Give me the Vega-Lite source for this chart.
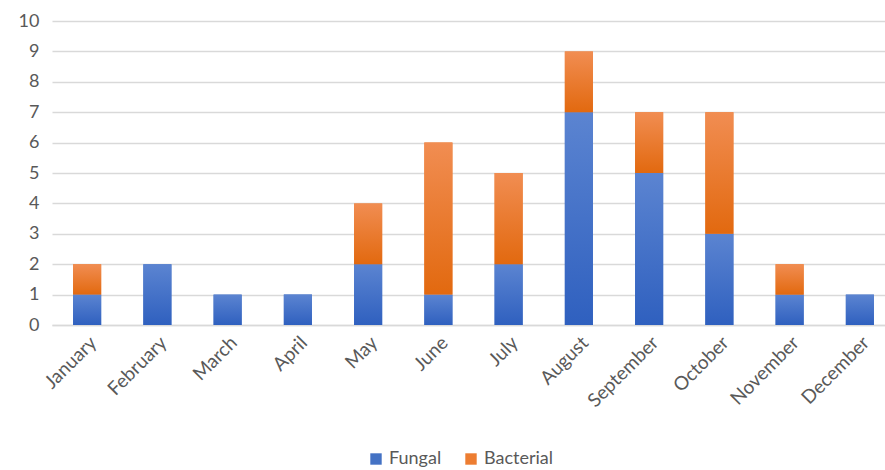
{
  "$schema": "https://vega.github.io/schema/vega-lite/v6.json",
  "width": 843,
  "height": 304,
  "autosize": {"type": "none"},
  "padding": {"left": 52, "top": 21, "right": 0, "bottom": 145},
  "background": "white",
  "config": {
    "view": {"stroke": null},
    "font": "Lato",
    "axis": {"labelFont": "Lato", "labelColor": "#595959", "labelFontSize": 18},
    "legend": {"labelFont": "Lato", "labelColor": "#595959", "labelFontSize": 18}
  },
  "data": {
    "values": [
      {"month": "January", "type": "Fungal", "order": 1, "count": 1},
      {"month": "January", "type": "Bacterial", "order": 2, "count": 1},
      {"month": "February", "type": "Fungal", "order": 1, "count": 2},
      {"month": "February", "type": "Bacterial", "order": 2, "count": 0},
      {"month": "March", "type": "Fungal", "order": 1, "count": 1},
      {"month": "March", "type": "Bacterial", "order": 2, "count": 0},
      {"month": "April", "type": "Fungal", "order": 1, "count": 1},
      {"month": "April", "type": "Bacterial", "order": 2, "count": 0},
      {"month": "May", "type": "Fungal", "order": 1, "count": 2},
      {"month": "May", "type": "Bacterial", "order": 2, "count": 2},
      {"month": "June", "type": "Fungal", "order": 1, "count": 1},
      {"month": "June", "type": "Bacterial", "order": 2, "count": 5},
      {"month": "July", "type": "Fungal", "order": 1, "count": 2},
      {"month": "July", "type": "Bacterial", "order": 2, "count": 3},
      {"month": "August", "type": "Fungal", "order": 1, "count": 7},
      {"month": "August", "type": "Bacterial", "order": 2, "count": 2},
      {"month": "September", "type": "Fungal", "order": 1, "count": 5},
      {"month": "September", "type": "Bacterial", "order": 2, "count": 2},
      {"month": "October", "type": "Fungal", "order": 1, "count": 3},
      {"month": "October", "type": "Bacterial", "order": 2, "count": 4},
      {"month": "November", "type": "Fungal", "order": 1, "count": 1},
      {"month": "November", "type": "Bacterial", "order": 2, "count": 1},
      {"month": "December", "type": "Fungal", "order": 1, "count": 1},
      {"month": "December", "type": "Bacterial", "order": 2, "count": 0}
    ]
  },
  "transform": [
    {"stack": "count", "groupby": ["month"], "sort": [{"field": "order", "order": "ascending"}], "as": ["y0", "y1"]}
  ],
  "encoding": {
    "x": {
      "field": "month", "type": "nominal", "sort": null, "title": null,
      "scale": {"paddingInner": 0.6, "paddingOuter": 0.3},
      "axis": {"labelAngle": -45, "labelFontSize": 19, "ticks": false, "domain": true, "domainColor": "#d9d9d9", "domainWidth": 1.5, "labelPadding": 8}
    },
    "y": {
      "field": "y1", "type": "quantitative", "title": null,
      "scale": {"domain": [0, 10], "nice": false},
      "axis": {"values": [0,1,2,3,4,5,6,7,8,9,10], "ticks": false, "domain": false, "gridColor": "#d9d9d9", "gridWidth": 1.5, "labelPadding": 13}
    },
    "y2": {"field": "y0"}
  },
  "layer": [
    {
      "mark": {"type": "bar"},
      "encoding": {
        "color": {
          "field": "type", "type": "nominal", "title": null,
          "scale": {"domain": ["Fungal", "Bacterial"], "range": ["#4472c4", "#ed7d31"]},
          "legend": {"orient": "none", "legendX": 315, "legendY": 429, "direction": "horizontal", "symbolType": "square", "symbolSize": 130, "columnPadding": 20, "labelOffset": 4}
        }
      }
    },
    {
      "transform": [{"filter": "datum.type === 'Fungal' && datum.count > 0"}],
      "mark": {"type": "bar", "color": {"gradient": "linear", "x1": 0, "y1": 0, "x2": 0, "y2": 1, "stops": [{"offset": 0, "color": "#5b84d1"}, {"offset": 1, "color": "#2f60bf"}]}}
    },
    {
      "transform": [{"filter": "datum.type === 'Bacterial' && datum.count > 0"}],
      "mark": {"type": "bar", "color": {"gradient": "linear", "x1": 0, "y1": 0, "x2": 0, "y2": 1, "stops": [{"offset": 0, "color": "#f18d52"}, {"offset": 1, "color": "#e2690f"}]}}
    }
  ]
}
